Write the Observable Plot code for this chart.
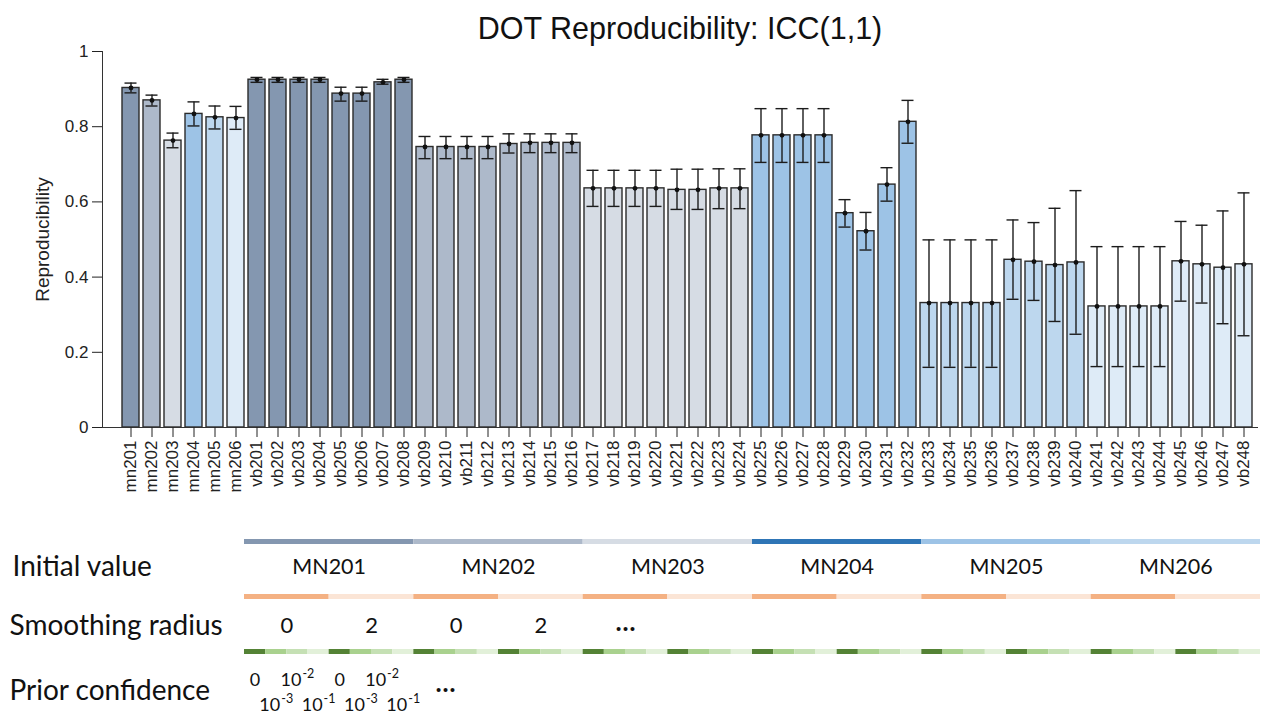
<!DOCTYPE html>
<html>
<head>
<meta charset="utf-8">
<script src="https://cdn.jsdelivr.net/npm/d3@7"></script>
<script src="https://cdn.jsdelivr.net/npm/@observablehq/plot@0.6"></script>
<style>
  body { margin: 0; background: #fff; }
  #wrap { position: relative; width: 1271px; height: 716px; overflow: hidden; font-family: "Liberation Sans", Arial, sans-serif; }
  #title { position: absolute; left: 102px; width: 1156px; top: 11px; text-align: center; font-size: 30.5px; line-height: 34px; color: #111; }
  #chart { position: absolute; left: 0; top: 0; }
  #key { position: absolute; left: 0; top: 520px; }
</style>
</head>
<body>
<div id="wrap">
  <div id="chart"></div>
  <div id="key"></div>
  <div id="title">DOT Reproducibility: ICC(1,1)</div>
</div>
<script>
// Runs: six single initial values, then 48 combinations (vb201–vb248)
const runs = [
  "mn201", "mn202", "mn203", "mn204", "mn205", "mn206",
  "vb201", "vb202", "vb203", "vb204", "vb205", "vb206", "vb207", "vb208",
  "vb209", "vb210", "vb211", "vb212", "vb213", "vb214", "vb215", "vb216",
  "vb217", "vb218", "vb219", "vb220", "vb221", "vb222", "vb223", "vb224",
  "vb225", "vb226", "vb227", "vb228", "vb229", "vb230", "vb231", "vb232",
  "vb233", "vb234", "vb235", "vb236", "vb237", "vb238", "vb239", "vb240",
  "vb241", "vb242", "vb243", "vb244", "vb245", "vb246", "vb247", "vb248"
];

// ICC(1,1) estimate per run
const icc = [
  0.903, 0.870, 0.763, 0.834, 0.825, 0.823,
  0.925, 0.925, 0.925, 0.925, 0.888, 0.888, 0.918, 0.925,
  0.746, 0.746, 0.746, 0.746, 0.754, 0.757, 0.757, 0.757,
  0.636, 0.636, 0.636, 0.636, 0.632, 0.632, 0.636, 0.636,
  0.777, 0.777, 0.777, 0.777, 0.570, 0.522, 0.646, 0.813,
  0.331, 0.331, 0.331, 0.331, 0.446, 0.441, 0.432, 0.439,
  0.322, 0.322, 0.322, 0.322, 0.442, 0.434, 0.425, 0.434
];

// Lower and upper confidence bounds
const iccLow = [
  0.890, 0.855, 0.744, 0.802, 0.794, 0.793,
  0.918, 0.918, 0.918, 0.918, 0.868, 0.868, 0.913, 0.918,
  0.715, 0.715, 0.715, 0.715, 0.730, 0.731, 0.731, 0.731,
  0.588, 0.588, 0.588, 0.588, 0.580, 0.580, 0.582, 0.582,
  0.705, 0.705, 0.705, 0.705, 0.533, 0.472, 0.602, 0.756,
  0.160, 0.160, 0.160, 0.160, 0.341, 0.338, 0.282, 0.248,
  0.162, 0.162, 0.162, 0.162, 0.336, 0.331, 0.276, 0.244
];
const iccHigh = [
  0.916, 0.884, 0.783, 0.866, 0.855, 0.854,
  0.931, 0.931, 0.931, 0.931, 0.905, 0.905, 0.926, 0.931,
  0.774, 0.774, 0.774, 0.774, 0.781, 0.781, 0.781, 0.781,
  0.684, 0.684, 0.684, 0.684, 0.687, 0.687, 0.688, 0.688,
  0.848, 0.848, 0.848, 0.848, 0.606, 0.572, 0.691, 0.870,
  0.499, 0.499, 0.499, 0.499, 0.552, 0.545, 0.583, 0.630,
  0.481, 0.481, 0.481, 0.481, 0.548, 0.538, 0.576, 0.624
];

const yTicks = [0, 0.2, 0.4, 0.6, 0.8, 1];

// Experimental factors
const initialValues = ["MN201", "MN202", "MN203", "MN204", "MN205", "MN206"];
const smoothingRadii = [0, 2];
const priorConfidence = [0, 1e-3, 1e-2, 1e-1];

// Palettes
const barColors = ["#8497B0", "#ADB9CA", "#D6DCE4", "#9DC3E6", "#BDD7EE", "#DEEBF7"];
const initialColors = ["#8497B0", "#ADB9CA", "#D6DCE4", "#2E75B6", "#9DC3E6", "#BDD7EE"];
const smoothingColors = ["#F4B183", "#FBE5D6"];
const priorColors = ["#548235", "#A9D18E", "#C5E0B4", "#E2F0D9"];

const perInitial = smoothingRadii.length * priorConfidence.length;

// Which initial value each run belongs to
function groupOf(run) {
  const n = +run.slice(2);
  if (run.startsWith("mn")) return initialValues[n - 201];
  return initialValues[Math.floor((n - 201) / perInitial)];
}

const rows = runs.map((run, i) => ({
  run, group: groupOf(run), value: icc[i], lo: iccLow[i], hi: iccHigh[i]
}));

const ink = "#1c1c1c";

const chart = Plot.plot({
  width: 1271,
  height: 500,
  marginLeft: 102,
  marginRight: 13,
  marginTop: 51,
  marginBottom: 73,
  style: {fontFamily: "'Liberation Sans', Arial, sans-serif", fontSize: "17px", color: "#222", background: "transparent"},
  x: {domain: runs, range: [116, 1258], padding: 0.18, label: null},
  y: {domain: [0, 1], label: null},
  color: {domain: initialValues, range: barColors},
  marks: [
    Plot.barY(rows, {x: "run", y: "value", fill: "group", stroke: "#2b2b2b", strokeWidth: 1.4}),
    Plot.ruleY([0], {stroke: "#333", strokeWidth: 1.2}),
    Plot.ruleX(rows, {x: "run", y1: "lo", y2: "hi", stroke: ink, strokeWidth: 1.4}),
    Plot.tickY(rows, {x: "run", y: "hi", stroke: ink, strokeWidth: 1.4, insetLeft: 2.5, insetRight: 2.5}),
    Plot.tickY(rows, {x: "run", y: "lo", stroke: ink, strokeWidth: 1.4, insetLeft: 2.5, insetRight: 2.5}),
    Plot.dot(rows, {x: "run", y: "value", r: 2.4, fill: "#111", stroke: null}),
    Plot.axisY({ticks: yTicks, tickFormat: d3.format("~g"), tickSize: 10, tickPadding: 4, label: null, fontSize: 17}),
    Plot.axisX({tickRotate: -90, tickSize: 10, tickPadding: 3, label: null, fontSize: 17}),
    Plot.frame({anchor: "left", stroke: "#333"}),
    Plot.text(["Reproducibility"], {text: d => d, frameAnchor: "left", textAnchor: "middle", rotate: -90, dx: -60, fontSize: 19, fill: "#222"})
  ]
});
document.getElementById("chart").append(chart);

// Factor key below the bars: one cell per vb run
const cells = [];
initialValues.forEach((iv, i) =>
  smoothingRadii.forEach((sr, j) =>
    priorConfidence.forEach((pc, k) =>
      cells.push({iv, sr, pc, i, j, k, idx: cells.length}))));

const halves = cells.filter(c => c.k === 0);
const heads = cells.filter(c => c.j === 0 && c.k === 0);

// Prior confidence labels for the first initial value's eight cells
const priorShown = cells.slice(0, perInitial * 1).filter(c => c.i === 0);
const priorZero = priorShown.filter(c => c.pc === 0);
const priorPow = priorShown.filter(c => c.pc !== 0);
const priorLine = c => (c.k % 2 === 0 ? 29 : 54);

const rowNames = ["Initial value", "Smoothing radius", "Prior confidence"];
const keyFont = "Lato, 'Open Sans', sans-serif";

const key = Plot.plot({
  width: 1271,
  height: 196,
  marginLeft: 0,
  marginRight: 0,
  marginTop: 20,
  marginBottom: 65,
  style: {fontFamily: keyFont, color: "#111", background: "transparent"},
  x: {domain: [0, cells.length], range: [244, 1260], axis: null},
  y: {type: "point", domain: rowNames, range: [20, 131], padding: 0, axis: null},
  color: {type: "identity"},
  marks: [
    // colour strips
    Plot.ruleY(heads, {x1: d => d.idx, x2: d => d.idx + perInitial, y: () => rowNames[0],
      stroke: d => initialColors[d.i], strokeWidth: 5}),
    Plot.ruleY(halves, {x1: d => d.idx, x2: d => d.idx + priorConfidence.length, y: () => rowNames[1],
      stroke: d => smoothingColors[d.j], strokeWidth: 5}),
    Plot.ruleY(cells, {x1: d => d.idx, x2: d => d.idx + 1, y: () => rowNames[2],
      stroke: d => priorColors[d.k], strokeWidth: 5}),
    // row titles
    Plot.text([rowNames[0]], {text: d => d, y: d => d, frameAnchor: "left", textAnchor: "start", dx: 12, dy: 26, fontSize: 28, fill: "#111"}),
    Plot.text([rowNames[1]], {text: d => d, y: d => d, frameAnchor: "left", textAnchor: "start", dx: 9, dy: 30, fontSize: 28, fill: "#111"}),
    Plot.text([rowNames[2]], {text: d => d, y: d => d, frameAnchor: "left", textAnchor: "start", dx: 9, dy: 40, fontSize: 28, fill: "#111"}),
    // initial value names
    Plot.text(heads, {x: d => d.idx + perInitial / 2, y: () => rowNames[0], text: d => d.iv, dy: 26, fontSize: 21.5, fill: "#111"}),
    // smoothing radius values for the first two initial values, then an ellipsis
    Plot.text(halves.slice(0, 4), {x: d => d.idx + priorConfidence.length / 2, y: () => rowNames[1], text: d => String(d.sr), dy: 29, fontSize: 22, fill: "#111"}),
    Plot.text([halves[4]], {x: d => d.idx + priorConfidence.length / 2, y: () => rowNames[1], text: () => "…", dy: 26, fontSize: 26, fontWeight: "bold", fill: "#111"}),
    // prior confidence values, staggered on two lines (powers of ten with raised exponents)
    Plot.text(priorZero, {x: d => d.idx + 0.5, y: () => rowNames[2], text: () => "0", dy: priorLine(priorZero[0]), fontSize: 18, fill: "#111"}),
    ...priorPow.map(c => Plot.text([c], {x: d => d.idx + 0.5, y: () => rowNames[2], text: () => "10",
      textAnchor: "end", dx: 4, dy: priorLine(c), fontSize: 18, fill: "#111"})),
    ...priorPow.map(c => Plot.text([c], {x: d => d.idx + 0.5, y: () => rowNames[2], text: d => "-" + Math.round(-Math.log10(d.pc)),
      textAnchor: "start", dx: 5, dy: priorLine(c) - 7, fontSize: 12.5, fill: "#111"})),
    Plot.text([cells[perInitial + 1]], {x: d => d.idx + 0.5, y: () => rowNames[2], text: () => "…", dy: 32, fontSize: 26, fontWeight: "bold", fill: "#111"})
  ]
});
document.getElementById("key").append(key);
</script>
</body>
</html>
